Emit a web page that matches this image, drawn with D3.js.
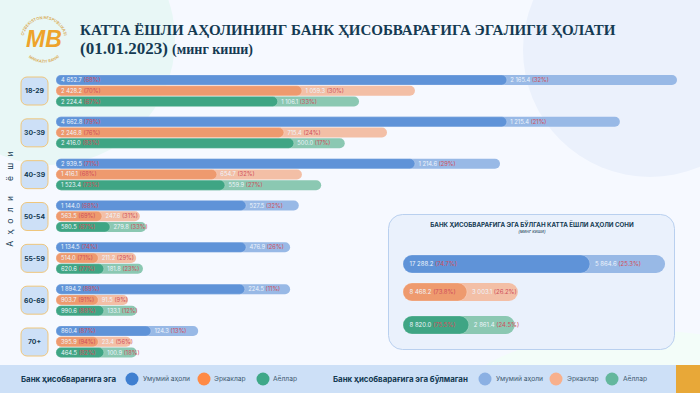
<!DOCTYPE html>
<html>
<head>
<meta charset="utf-8">
<script src="https://cdn.jsdelivr.net/npm/d3@7"></script>
<style>
  html, body { margin: 0; padding: 0; background: #f6f9ff; }
  svg { display: block; font-family: Inter, "Noto Sans", sans-serif; }
</style>
</head>
<body>
<div id="chart"></div>
<script>
const ages = ["18-29", "30-39", "40-39", "50-54", "55-59", "60-69", "70+"];
const groups = ["all", "men", "women"];

// values printed on the bars (thousand people, share in %)
const allHave = [4652.7, 4662.8, 2939.5, 1144.0, 1134.5, 1894.2, 860.4];
const allHavePct = [68, 79, 71, 68, 74, 89, 87];
const allNot = [2165.4, 1215.4, 1214.6, 527.5, 476.9, 224.5, 124.3];
const allNotPct = [32, 21, 29, 32, 26, 11, 13];
const menHave = [2428.2, 2246.8, 1416.1, 563.5, 514.0, 903.7, 395.9];
const menHavePct = [70, 76, 68, 69, 71, 91, 94];
const menNot = [1059.3, 715.4, 654.7, 247.6, 211.2, 91.5, 23.4];
const menNotPct = [30, 24, 32, 31, 29, 9, 56];
const womenHave = [2224.4, 2416.0, 1523.4, 580.5, 620.6, 990.6, 464.5];
const womenHavePct = [67, 83, 73, 67, 77, 88, 82];
const womenNot = [1106.1, 500.0, 559.9, 279.8, 181.8, 133.1, 100.9];
const womenNotPct = [33, 17, 27, 33, 23, 12, 18];

// the source bars are not drawn to scale with their labels, so the lengths
// are read off the picture separately, as % of the longest bar
const allHaveLen = [72.6, 72.6, 57.8, 30.6, 30.6, 30.4, 15.3];
const allFullLen = [100, 90.8, 71.5, 39.1, 37.7, 37.7, 22.9];
const menHaveLen = [39.6, 36.7, 25.9, 7.4, 6.8, 6.8, 6.8];
const menFullLen = [57.8, 53.3, 39.6, 13.5, 12.9, 11.6, 12.1];
const womenHaveLen = [35.7, 38.3, 27.2, 8.7, 7.7, 7.7, 7.7];
const womenFullLen = [48.8, 46.5, 42.7, 14.5, 14.0, 13.0, 13.0];

// totals panel
const totalHave = [17288.2, 8468.2, 8820.0];
const totalHavePct = [74.7, 73.8, 75.5];
const totalNot = [5864.6, 3003.1, 2861.4];
const totalNotPct = [25.3, 26.2, 24.5];
const totalHaveLen = [30.1, 10.3, 10.6];
const totalFullLen = [42.2, 18.5, 18.0];

const legendNames = ["Умумий аҳоли", "Эркаклар", "Аёллар"];

const darkColor = d3.scaleOrdinal(groups, ["#5f93d8", "#ee9a6e", "#3fa584"]);
const lightColor = d3.scaleOrdinal(groups, ["#98b9e6", "#f3bfa6", "#8bc8b2"]);

const num = d3.formatLocale({ decimal: ".", thousands: " ", grouping: [3], currency: ["", ""] }).format(",.1f");
const navy = "#143a52";
const pctRed = "#cf4f5c";

const svg = d3.select("#chart").append("svg").attr("width", 700).attr("height", 393);

// background shapes
svg.append("rect").attr("width", 700).attr("height", 393).attr("fill", "#f6f9ff");
svg.append("circle").attr("cx", 50).attr("cy", 40).attr("r", 125).attr("fill", "#e8f7f6");
svg.append("circle").attr("cx", 650).attr("cy", 50).attr("r", 127).attr("fill", "#ebf1fc");
svg.append("ellipse").attr("cx", 640).attr("cy", 420).attr("rx", 195).attr("ry", 90).attr("fill", "#f3fdf9");

// title
svg.append("text").attr("x", 80).attr("y", 35)
    .attr("font-family", "'Liberation Serif', serif").attr("font-weight", 700)
    .attr("font-size", 15).attr("fill", navy)
    .text("КАТТА ЁШЛИ АҲОЛИНИНГ БАНК ҲИСОБВАРАҒИГА ЭГАЛИГИ ҲОЛАТИ");
const sub = svg.append("text").attr("x", 80).attr("y", 54)
    .attr("font-family", "'Liberation Serif', serif").attr("font-weight", 700).attr("fill", navy);
sub.append("tspan").attr("font-size", 17).text("(01.01.2023) ");
sub.append("tspan").attr("font-size", 14).text("(минг киши)");

// logo
const logo = svg.append("g").attr("transform", "translate(44,39)");
const defs = svg.append("defs");
defs.append("path").attr("id", "logoTop").attr("d", "M-20,5 A20.5,20.5 0 1 1 20,5");
defs.append("path").attr("id", "logoBottom").attr("d", "M-20,13 A24,24 0 0 0 20,13");
logo.append("text").attr("font-size", 4).attr("font-weight", 600).attr("fill", "#d9a94e")
    .append("textPath").attr("href", "#logoTop").attr("startOffset", "50%").attr("text-anchor", "middle")
    .text("O‘ZBEKISTON RESPUBLIKASI");
logo.append("text").attr("font-size", 3.8).attr("font-weight", 600).attr("fill", "#d9a94e")
    .append("textPath").attr("href", "#logoBottom").attr("startOffset", "50%").attr("text-anchor", "middle")
    .text("MARKAZIY BANKI");
logo.append("text").attr("x", 0).attr("y", 8).attr("text-anchor", "middle")
    .attr("font-family", "'Liberation Sans', sans-serif").attr("font-size", 23)
    .attr("font-weight", 700).attr("font-style", "italic").attr("fill", "#eea32b").text("MB");

// rows for the main chart
const rows = [];
ages.forEach((age, i) => {
    rows.push({ age, group: "all", have: allHave[i], havePct: allHavePct[i], not: allNot[i], notPct: allNotPct[i], haveLen: allHaveLen[i], fullLen: allFullLen[i] });
    rows.push({ age, group: "men", have: menHave[i], havePct: menHavePct[i], not: menNot[i], notPct: menNotPct[i], haveLen: menHaveLen[i], fullLen: menFullLen[i] });
    rows.push({ age, group: "women", have: womenHave[i], havePct: womenHavePct[i], not: womenNot[i], notPct: womenNotPct[i], haveLen: womenHaveLen[i], fullLen: womenFullLen[i] });
});

const x = d3.scaleLinear([0, 100], [56, 677]);
const yAge = d3.scalePoint(ages, [75, 326]);
const yGroup = d3.scalePoint(groups, [0, 21.5]);
const barHeight = 10;

function drawBars(sel, yOf, h, size, pad) {
    const g = sel.append("g").attr("transform", d => `translate(0,${yOf(d)})`);

    g.append("rect").attr("x", x(0)).attr("width", d => x(d.fullLen) - x(0)).attr("height", h)
        .attr("rx", h / 2).attr("fill", d => lightColor(d.group));
    g.append("rect").attr("x", x(0)).attr("width", d => x(d.haveLen) - x(0)).attr("height", h)
        .attr("rx", h / 2).attr("fill", d => darkColor(d.group))
        .attr("stroke", "#ffffff").attr("stroke-opacity", 0.45).attr("stroke-width", 0.5);

    const left = g.append("text").attr("x", x(0) + pad).attr("y", h / 2).attr("dy", "0.35em").attr("font-size", size);
    left.append("tspan").attr("fill", "#eef4fb").text(d => num(d.have) + " ");
    left.append("tspan").attr("fill", pctRed).text(d => `(${d.havePct}%)`);

    const right = g.append("text").attr("x", d => x(d.haveLen) + pad - 1.5).attr("y", h / 2).attr("dy", "0.35em").attr("font-size", size);
    right.append("tspan").attr("fill", "#eef4fb").text(d => num(d.not) + " ");
    right.append("tspan").attr("fill", pctRed).text(d => `(${d.notPct}%)`);
}

drawBars(svg.append("g").selectAll("g").data(rows).join("g"),
    d => yAge(d.age) + yGroup(d.group), barHeight, 5.8, 5);

// age boxes
const ageBox = svg.append("g").selectAll("g").data(ages).join("g")
    .attr("transform", d => `translate(21,${yAge(d) + 2})`);
ageBox.append("rect").attr("width", 27).attr("height", 28).attr("rx", 6)
    .attr("fill", "#cde0f7").attr("stroke", "#efc67c").attr("stroke-width", 1);
ageBox.append("text").attr("x", 13.5).attr("y", 14).attr("dy", "0.35em").attr("text-anchor", "middle")
    .attr("font-size", 6.8).attr("font-weight", 700).attr("fill", navy).text(d => d);

// axis title
svg.append("text").attr("transform", "translate(13,196) rotate(-90)").attr("text-anchor", "middle")
    .attr("font-size", 8.5).attr("letter-spacing", 6.3).attr("fill", navy).text("Аҳоли ёши");

// totals panel
svg.append("rect").attr("x", 388.5).attr("y", 214.5).attr("width", 286).attr("height", 135).attr("rx", 14)
    .attr("fill", "#eaf1fc").attr("stroke", "#b9d0ef");
svg.append("text").attr("x", 532).attr("y", 227).attr("text-anchor", "middle")
    .attr("font-size", 6.2).attr("font-weight", 700).attr("fill", navy)
    .text("БАНК ҲИСОБВАРАҒИГА ЭГА БЎЛГАН КАТТА ЁШЛИ АҲОЛИ СОНИ");
svg.append("text").attr("x", 532).attr("y", 233).attr("text-anchor", "middle")
    .attr("font-size", 4.6).attr("font-style", "italic").attr("fill", navy).text("(минг киши)");

const totals = groups.map((group, i) => ({
    group, have: totalHave[i], havePct: totalHavePct[i], not: totalNot[i], notPct: totalNotPct[i],
    haveLen: totalHaveLen[i], fullLen: totalFullLen[i]
}));
const yTotal = d3.scaleOrdinal(groups, [255, 283, 316]);
const panelBars = svg.append("g").attr("transform", "translate(347,0)");
drawBars(panelBars.selectAll("g").data(totals).join("g"), d => yTotal(d.group), 18, 6, 6.5);

// footer and legend
svg.append("rect").attr("y", 365).attr("width", 700).attr("height", 28).attr("fill", "#cde0f7");
svg.append("rect").attr("x", 676).attr("y", 365).attr("width", 24).attr("height", 28).attr("fill", "#e8a838");

function legend(title, titleX, cxs, txs, colors) {
    svg.append("text").attr("x", titleX).attr("y", 379).attr("dy", "0.35em")
        .attr("font-size", 7.9).attr("font-weight", 700).attr("fill", navy).text(title);
    const item = svg.append("g").selectAll("g").data(legendNames).join("g");
    item.append("circle").attr("cx", (d, i) => cxs[i]).attr("cy", 379).attr("r", 6.5).attr("fill", (d, i) => colors[i]);
    item.append("text").attr("x", (d, i) => txs[i]).attr("y", 379).attr("dy", "0.35em")
        .attr("font-size", 6.7).attr("fill", "#3f5a70").text(d => d);
}
legend("Банк ҳисобварағига эга", 21, [132, 204, 263], [143, 214, 273], ["#3f7fd0", "#ff8a45", "#3fa888"]);
legend("Банк ҳисобварағига эга бўлмаган", 333, [485, 556, 612], [496, 567, 623], ["#8bb0e3", "#f8b08c", "#64b79d"]);
</script>
</body>
</html>
